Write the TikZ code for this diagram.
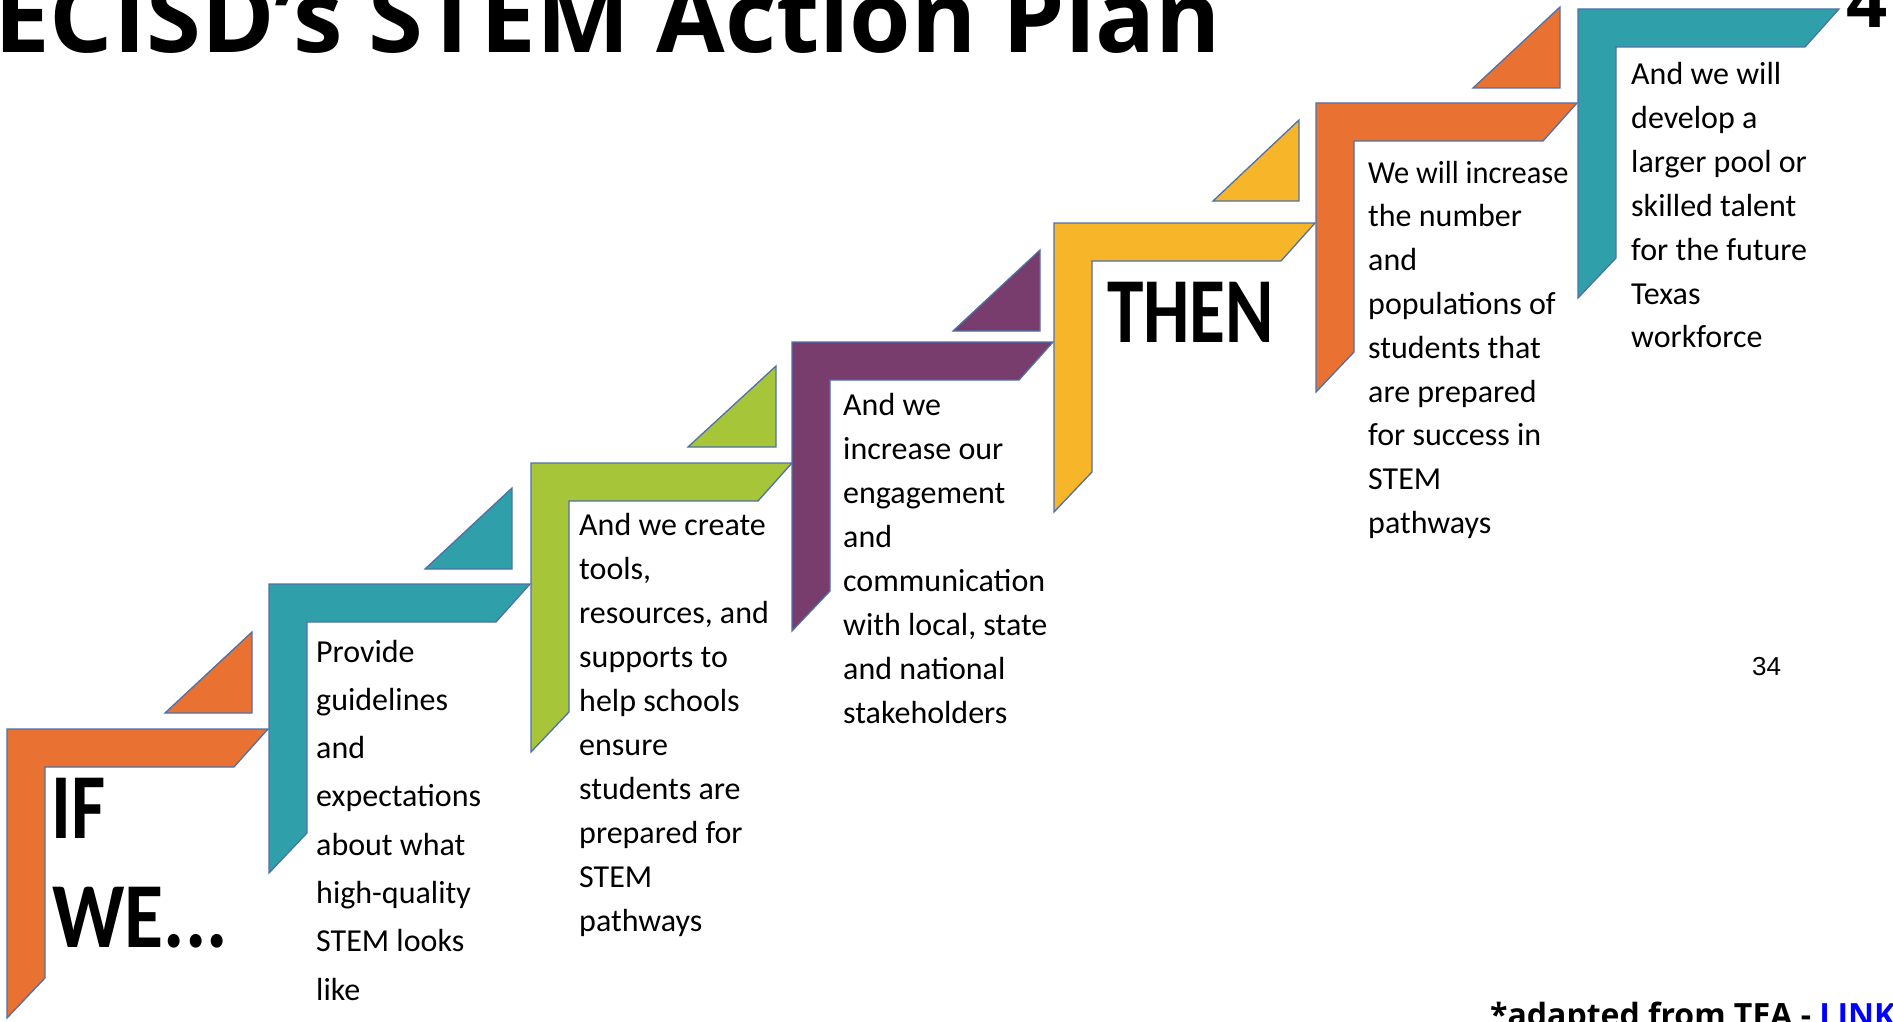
\documentclass[tikz,border=0pt]{standalone}
\usepackage{fontspec}
\setmainfont{Carlito}
\newfontfamily\opensans{Open Sans}
\newfontfamily\arialish{Liberation Sans}
\definecolor{cOrange}{HTML}{E97131}
\definecolor{cTeal}{HTML}{2F9FAA}
\definecolor{cGreen}{HTML}{A7C539}
\definecolor{cPurple}{HTML}{783C6D}
\definecolor{cYellow}{HTML}{F7B52A}
\definecolor{cOutline}{HTML}{4F71A8}
\definecolor{cLink}{HTML}{0000FF}
\tikzset{
  shapeline/.style={draw=cOutline, line width=1.3pt, line join=miter},
  bodytxt/.style={anchor=base west, inner sep=0pt, font=\fontsize{32}{44}\selectfont},
  bigtxt/.style={anchor=base west, inner sep=0pt, font=\fontsize{93}{100}\selectfont\bfseries},
}
\newcommand\drawstair[3]{%
  \filldraw[shapeline, fill=#3] (#1,#2) -- ++(261,0) -- ++(-34,38) -- ({#1+38},{#2+38})
    -- ({#1+38},{#2+249}) -- (#1,{#2+289}) -- cycle;}
\newcommand\drawtri[4]{%
  \filldraw[shapeline, fill=#4] (#1,#3) -- (#2,#3) -- (#2,{#3-81}) -- cycle;}
\begin{document}
\begin{tikzpicture}[x=1pt,y=-1pt]
\useasboundingbox (0,0) rectangle (1893,1022);
\clip (0,0) rectangle (1893,1022);
\fill[white] (0,0) rectangle (1893,1022);

% stairs
\drawstair{7}{729}{cOrange}
\drawstair{269}{584}{cTeal}
\drawstair{531}{463}{cGreen}
\drawstair{792}{342}{cPurple}
\drawstair{1054}{223}{cYellow}
\drawstair{1316}{103}{cOrange}
\drawstair{1578}{9}{cTeal}

% triangles
\drawtri{165}{252}{713}{cOrange}
\drawtri{425}{512}{569}{cTeal}
\drawtri{688}{776}{447}{cGreen}
\drawtri{953}{1040}{331}{cPurple}
\drawtri{1213}{1299}{201}{cYellow}
\drawtri{1473}{1560}{88}{cOrange}

% title and corner texts
\node[anchor=base west, inner sep=0pt, font=\opensans\bfseries\fontsize{99.5}{100}\selectfont] (title) at (-6,53) {ECISD’s STEM Action Plan};
\node[anchor=base west, inner sep=0pt, font=\opensans\bfseries\fontsize{72}{76}\selectfont] (four) at (1846,28) {4};
\node[anchor=base west, inner sep=0pt, font=\arialish\fontsize{26}{30}\selectfont] (pagenum) at (1752,675) {34};
\node[anchor=base west, inner sep=0pt, font=\opensans\bfseries\fontsize{32}{36}\selectfont] (footer) at (1490,1026) {*adapted from TEA - \textcolor{cLink}{LINK}};

% step 1
\node[bigtxt] (if) at (51,838) {\scalebox{0.8}[1]{IF}};
\node[bigtxt] (we) at (52,947) {\scalebox{0.86}[1]{WE...}};

% step 2
\foreach \l [count=\i] in {Provide,guidelines,and,expectations,about what,high-quality,STEM looks,like}
  \node[bodytxt] (s2l\i) at (316,{662+48.3*(\i-1)}) {\l};

% step 3
\foreach \l [count=\i] in {And we create,{tools,},{resources, and},supports to,help schools,ensure,students are,prepared for,STEM,pathways}
  \node[bodytxt] (s3l\i) at (579,{535+44*(\i-1)}) {\l};

% step 4
\foreach \l [count=\i] in {And we,increase our,engagement,and,communication,{with local, state},and national,stakeholders}
  \node[bodytxt] (s4l\i) at (843,{415+44*(\i-1)}) {\l};

% step 5
\node[bigtxt] (then) at (1107,342) {\scalebox{0.79}[1]{THEN}};

% step 6
\foreach \l [count=\i] in {\scalebox{0.95}[1]{We will increase},the number,and,populations of,students that,are prepared,for success in,STEM,pathways}
  \node[bodytxt] (s6l\i) at (1368,{183+43.8*(\i-1)}) {\l};

% step 7
\foreach \l [count=\i] in {And we will,develop a,larger pool or,skilled talent,for the future,Texas,workforce}
  \node[bodytxt] (s7l\i) at (1631,{85+43.8*(\i-1)}) {\l};
\end{tikzpicture}
\end{document}
